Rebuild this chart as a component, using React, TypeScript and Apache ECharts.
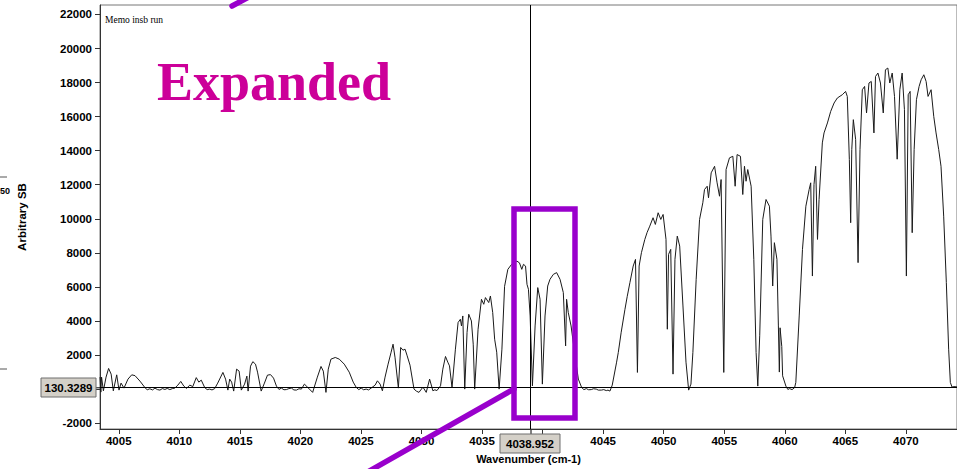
import React, { useEffect, useRef } from "react";
import * as echarts from "echarts";

// Axis extents (wavenumber in cm-1, intensity in arbitrary units)
const X_MIN = 4003.45;
const X_MAX = 4074.22;
const Y_MIN = -2343;
const Y_MAX = 22555;

// Cursor readouts
const CURSOR_X = 4038.952;
const CURSOR_Y = 130.3289;
const CURSOR_X_LABEL = "4038.952";
const CURSOR_Y_LABEL = "130.3289";

// Tick labels hidden beneath the cursor readout boxes
const HIDDEN_X_TICKS = [4040];
const HIDDEN_Y_TICKS = [0];

// Spectrum: [wavenumber, intensity]
const lowBands: [number, number][] = [
  [4003.45, 703], [4003.52, -176], [4003.58, 703], [4003.73, -100], [4003.95, 703], [4004.16, 1213],
  [4004.37, 879], [4004.55, -100], [4004.83, 838], [4005.02, -59], [4005.19, 352], [4005.43, 59],
  [4005.76, 586], [4006.07, 838], [4006.34, 791], [4006.75, 469], [4007.16, 88], [4007.35, -40],
  [4007.57, 20], [4007.78, -50], [4007.99, 59], [4008.2, -30], [4008.40, -59], [4008.6, 30],
  [4008.81, -20], [4009.0, 40], [4009.22, -29], [4009.43, 30], [4009.63, 59], [4009.88, 234],
  [4010.12, 451], [4010.37, 176], [4010.59, 41], [4010.87, 234], [4011.11, 147], [4011.40, 674],
  [4011.61, 410], [4011.81, 527], [4012.10, 88], [4012.3, -30], [4012.51, 0], [4012.7, -50],
  [4012.92, 29], [4013.17, 352], [4013.60, 979], [4013.82, 586], [4014.01, -59], [4014.16, 586],
  [4014.32, 410], [4014.49, -117], [4014.73, 1172], [4014.94, 1055], [4015.12, -59], [4015.39, 293],
  [4015.58, 762], [4015.68, -117], [4015.88, 1348], [4016.07, 1612], [4016.29, 1465], [4016.46, 996],
  [4016.76, -117], [4017.03, 352], [4017.28, 820], [4017.53, 850], [4017.78, 645], [4018.02, 176],
  [4018.23, -20], [4018.43, 59], [4018.64, -40], [4018.84, -29], [4019.05, 30], [4019.26, 59],
  [4019.46, -50], [4019.67, -59], [4019.88, 20], [4020.08, 0], [4020.33, 293], [4020.66, 59],
  [4021.01, -193], [4021.40, 703], [4021.70, 1330], [4021.89, 1055], [4022.11, -193], [4022.30, 1172],
  [4022.52, 1758], [4022.88, 1858], [4023.21, 1758], [4023.62, 1465], [4024.03, 996], [4024.36, 410],
  [4024.61, 100], [4024.82, -30], [4025.02, 59], [4025.22, -40], [4025.43, 0], [4025.63, -50],
  [4025.84, 59],
];

const band4028: [number, number][] = [
  [4026.17, 234], [4026.36, 486], [4026.58, 293], [4026.77, -100], [4026.99, 703], [4027.24, 1465],
  [4027.49, 2168], [4027.65, 2637], [4027.81, 1875], [4028.09, 59], [4028.28, 2444], [4028.47, 2285],
  [4028.64, 2344], [4028.80, 1992], [4029.05, 1406], [4029.38, 0], [4029.58, -120], [4029.79, -193],
  [4030.12, 117], [4030.39, -193], [4030.67, 586], [4030.94, -100], [4031.1, -40], [4031.27, -88],
  [4031.57, 193], [4031.76, 1172], [4031.98, 1916], [4032.17, 1582], [4032.31, 1365], [4032.52, 88],
];

const band4037: [number, number][] = [
  [4032.80, 2344], [4033.02, 3909], [4033.21, 4102], [4033.30, 3709], [4033.41, 4295], [4033.57, 0],
  [4033.76, 3323], [4033.90, 4395], [4034.12, 4002], [4034.27, 2637], [4034.39, 0], [4034.67, 3516],
  [4034.95, 5274], [4035.14, 4981], [4035.28, 5374], [4035.55, 5081], [4035.69, 5467], [4035.88, 4495],
  [4036.04, 2930], [4036.21, 2168], [4036.41, 0], [4036.64, 2344], [4036.86, 6036], [4037.13, 7032],
  [4037.44, 7325], [4037.68, 7413], [4037.87, 7518], [4038.09, 7413], [4038.28, 7032], [4038.42, 7325],
  [4038.59, 7225], [4038.71, 6153], [4038.83, 5860], [4038.97, 4295], [4039.16, 193], [4039.38, 3709],
  [4039.60, 5960], [4039.79, 5274], [4039.98, 293], [4040.20, 4295], [4040.42, 6053], [4040.61, 6446],
  [4040.89, 6739], [4041.16, 6839], [4041.44, 6446], [4041.71, 5667], [4041.90, 2537], [4041.98, 5274],
  [4042.12, 4495], [4042.35, 3709], [4042.68, 1951], [4042.95, 586], [4043.22, 100], [4043.41, -30],
  [4043.61, 29], [4043.8, -40], [4044.02, -29], [4044.2, 20], [4044.43, 0], [4044.6, -60],
  [4044.85, -59], [4045.05, -30], [4045.26, -88], [4045.4, -60], [4045.56, -117],
];

const band4049: [number, number][] = [
  [4045.75, 234], [4046.11, 1582], [4046.25, 2151], [4046.49, 3340], [4046.80, 4688], [4046.99, 5450],
  [4047.21, 6253], [4047.48, 7225], [4047.67, 7618], [4047.83, 979], [4047.97, 7225], [4048.16, 8011],
  [4048.44, 8790], [4048.63, 9200], [4048.85, 9569], [4049.12, 10062], [4049.31, 9669], [4049.54, 10355],
  [4049.76, 9962], [4049.95, 10255], [4050.19, 8790], [4050.30, 3516], [4050.40, 7911], [4050.58, 8204],
  [4050.77, 879], [4050.93, 7618], [4051.12, 8983], [4051.32, 8397], [4051.59, 4881], [4051.84, 1582],
  [4052.06, -60], [4052.25, 293],
];

const band4055: [number, number][] = [
  [4052.41, 2151], [4052.68, 6446], [4052.96, 9962], [4053.23, 10941], [4053.37, 11720], [4053.59, 11913],
  [4053.70, 11234], [4053.92, 12699], [4054.20, 13085], [4054.41, 12113], [4054.61, 11327], [4054.74, 12306],
  [4054.96, 979], [4055.15, 12892], [4055.43, 13578], [4055.71, 13671], [4055.90, 11913], [4056.06, 13771],
  [4056.34, 13671], [4056.53, 11427], [4056.67, 13085], [4056.80, 12206], [4056.94, 12892], [4057.22, 11913],
  [4057.44, 7618], [4057.63, 2151], [4057.77, 176], [4057.93, 3164], [4058.18, 9962], [4058.45, 11134],
  [4058.73, 10741], [4058.86, 8983], [4059.00, 6053], [4059.14, 8597], [4059.35, 7618], [4059.47, 3709],
  [4059.55, 1000], [4059.61, 3600], [4059.75, 2500], [4059.82, 779], [4060.09, 176], [4060.25, -20],
  [4060.40, 29], [4060.6, -30], [4060.81, 88],
];

const band4067: [number, number][] = [
  [4060.91, 393], [4061.19, 4295], [4061.46, 8204], [4061.74, 10741], [4062.01, 11720], [4062.14, 12113],
  [4062.28, 6639], [4062.41, 12013], [4062.55, 13085], [4062.70, 8790], [4062.83, 11134], [4063.10, 14457],
  [4063.24, 15043], [4063.52, 15629], [4063.79, 16308], [4064.07, 16801], [4064.34, 17094], [4064.75, 17287],
  [4065.02, 17480], [4065.16, 17187], [4065.33, 13478], [4065.44, 9769], [4065.53, 14064], [4065.66, 15822],
  [4065.85, 14650], [4066.05, 7425], [4066.21, 14064], [4066.40, 17580], [4066.59, 17773], [4066.75, 16215],
  [4066.95, 17973], [4067.14, 18066], [4067.36, 15043], [4067.49, 18359], [4067.69, 18559], [4067.90, 17973],
  [4068.13, 16215], [4068.31, 18752], [4068.51, 18852], [4068.67, 17973], [4068.87, 18559], [4069.06, 17187],
  [4069.28, 13500], [4069.50, 17580], [4069.69, 18559], [4069.88, 16408], [4070.04, 6639], [4070.19, 17287],
  [4070.35, 17480], [4070.52, 9183], [4070.68, 14064], [4070.87, 16994], [4071.09, 17773], [4071.26, 18166],
  [4071.48, 18459], [4071.67, 18066], [4071.83, 17187], [4072.08, 17580], [4072.30, 16016], [4072.49, 15043],
  [4072.71, 14064], [4072.90, 13085], [4073.12, 10155], [4073.34, 6253], [4073.53, 2344], [4073.67, 393],
  [4073.81, 117], [4073.97, 147], [4074.22, 130],
];

const spectrum = [...lowBands, ...band4028, ...band4037, ...band4049, ...band4055, ...band4067];

const AXIS_FONT = '"Liberation Sans", Arial, sans-serif';
const PURPLE = "#9900cc";
const MAGENTA = "#cc0099";
const BOX_FILL = "#d4d0c8";

const baseLabel = {
  color: "#000",
  fontFamily: AXIS_FONT,
  fontWeight: "bold" as const,
  fontSize: 11.5,
  showMinLabel: false,
  showMaxLabel: false,
};

const option = {
  animation: false,
  backgroundColor: "#fff",
  grid: { left: 100, right: -3, top: 5, bottom: 39, show: true, borderColor: "#777", borderWidth: 1 },
  xAxis: {
    type: "value",
    min: X_MIN,
    max: X_MAX,
    splitNumber: 14,
    name: "Wavenumber (cm-1)",
    nameLocation: "middle",
    nameGap: 24,
    nameTextStyle: { color: "#000", fontFamily: AXIS_FONT, fontWeight: "bold", fontSize: 11 },
    axisLine: { onZero: false, lineStyle: { color: "#333", width: 1 } },
    axisTick: { length: 5, lineStyle: { color: "#333" } },
    axisLabel: {
      ...baseLabel,
      margin: 6,
      formatter: (v: number) => (HIDDEN_X_TICKS.includes(v) ? "" : String(v)),
    },
    splitLine: { show: false },
  },
  yAxis: {
    type: "value",
    min: Y_MIN,
    max: Y_MAX,
    splitNumber: 12,
    name: "Arbitrary SB",
    nameLocation: "middle",
    nameGap: 72,
    nameTextStyle: { color: "#000", fontFamily: AXIS_FONT, fontWeight: "bold", fontSize: 11.5 },
    axisLine: { onZero: false, lineStyle: { color: "#333", width: 1 } },
    axisTick: { length: 5, lineStyle: { color: "#333" } },
    axisLabel: {
      ...baseLabel,
      margin: 8,
      formatter: (v: number) => (HIDDEN_Y_TICKS.includes(v) ? "" : String(v)),
    },
    splitLine: { show: false },
  },
  series: [
    {
      type: "line",
      data: spectrum,
      showSymbol: false,
      symbol: "none",
      lineStyle: { color: "#1a1a1a", width: 1 },
      markLine: {
        silent: true,
        symbol: ["none", "none"],
        label: { show: false },
        lineStyle: { color: "#000", width: 1, type: "solid" },
        data: [{ xAxis: CURSOR_X }, { yAxis: CURSOR_Y }],
      },
    },
  ],
  graphic: [
    {
      type: "text",
      z: 100,
      x: 105,
      y: 20,
      style: { text: "Memo insb run", font: '9.5px "Liberation Serif", serif', fill: "#000", textVerticalAlign: "middle" },
    },
    {
      type: "text",
      z: 100,
      x: 157,
      y: 82,
      style: {
        text: "Expanded",
        font: 'bold 54px "Liberation Serif", "Times New Roman", serif',
        fill: MAGENTA,
        textVerticalAlign: "middle",
      },
    },
    {
      type: "rect",
      z: 100,
      shape: { x: 514, y: 209, width: 61, height: 209 },
      style: { fill: "none", stroke: PURPLE, lineWidth: 5.5 },
    },
    {
      type: "line",
      z: 100,
      shape: { x1: 514, y1: 389, x2: 350, y2: 482 },
      style: { stroke: PURPLE, lineWidth: 5.5, lineCap: "round" },
    },
    {
      type: "line",
      z: 100,
      shape: { x1: 232, y1: 6, x2: 262, y2: -10 },
      style: { stroke: PURPLE, lineWidth: 5.5, lineCap: "round" },
    },
    // cursor readout boxes
    { type: "line", z: 90, shape: { x1: 96, y1: 387.8, x2: 100, y2: 387.8 }, style: { stroke: "#000", lineWidth: 1 } },
    {
      type: "rect",
      z: 100,
      shape: { x: 41, y: 378, width: 55, height: 19 },
      style: { fill: BOX_FILL, stroke: "#6e6e6e", lineWidth: 1 },
    },
    {
      type: "text",
      z: 101,
      x: 68.5,
      y: 388,
      style: {
        text: CURSOR_Y_LABEL,
        font: 'bold 11.5px "Liberation Sans", Arial, sans-serif',
        fill: "#000",
        textAlign: "center",
        textVerticalAlign: "middle",
      },
    },
    { type: "line", z: 90, shape: { x1: 531, y1: 430, x2: 531, y2: 434 }, style: { stroke: "#000", lineWidth: 1 } },
    {
      type: "rect",
      z: 100,
      shape: { x: 500, y: 434, width: 60, height: 19 },
      style: { fill: BOX_FILL, stroke: "#6e6e6e", lineWidth: 1 },
    },
    {
      type: "text",
      z: 101,
      x: 530,
      y: 444,
      style: {
        text: CURSOR_X_LABEL,
        font: 'bold 11.5px "Liberation Sans", Arial, sans-serif',
        fill: "#000",
        textAlign: "center",
        textVerticalAlign: "middle",
      },
    },
    // fragments of the neighbouring figure at the left edge
    { type: "line", z: 100, shape: { x1: 0, y1: 177, x2: 7, y2: 177 }, style: { stroke: "#555", lineWidth: 1 } },
    { type: "line", z: 100, shape: { x1: 0, y1: 369, x2: 7, y2: 369 }, style: { stroke: "#555", lineWidth: 1 } },
    {
      type: "text",
      z: 100,
      x: 0,
      y: 191,
      style: { text: "50", font: 'bold 9px "Liberation Sans", Arial, sans-serif', fill: "#000", textVerticalAlign: "middle" },
    },
  ],
};

export default function App() {
  const ref = useRef<HTMLDivElement>(null);
  useEffect(() => {
    if (!ref.current) return;
    const chart = echarts.init(ref.current, null, { renderer: "svg" });
    chart.setOption(option as any);
    return () => chart.dispose();
  }, []);
  return (
    <div
      ref={ref}
      style={{ position: "fixed", left: 0, top: 0, width: 957, height: 469, background: "#fff" }}
    />
  );
}
